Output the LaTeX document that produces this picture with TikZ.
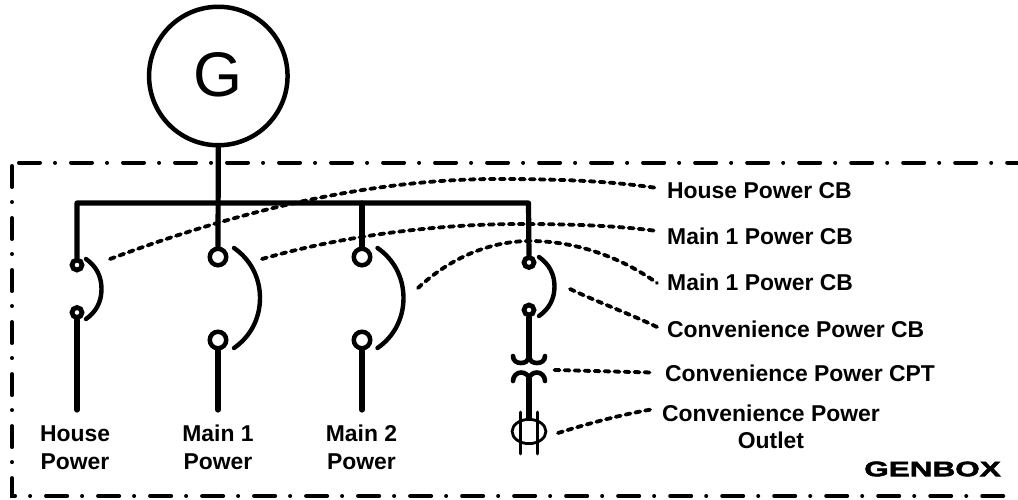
\documentclass[tikz,border=0pt]{standalone}
\usepackage{fontspec}
\usetikzlibrary{shapes.geometric}
\setmainfont{Liberation Sans}
\newfontfamily\wideblack[FakeStretch=1.5,FakeBold=2.5]{Liberation Sans Bold}
\tikzset{
  x=1pt,y=-1pt,
  frameline/.style={line width=4pt,line cap=round,dash pattern=on 21pt off 15pt on 0.01pt off 16pt},
  wire/.style={line width=5.2pt,line cap=round},
  arcline/.style={line width=4.4pt,line cap=round},
  coilline/.style={line width=4.6pt,line cap=round},
  leader/.style={line width=3.8pt,line cap=round,dash pattern=on 5pt off 5pt},
  bigterm/.style={circle,draw,line width=4.5pt,minimum size=16.5pt,inner sep=0pt},
  smallterm/.style={circle,draw,line width=4.8pt,minimum size=10pt,inner sep=0pt},
  lab/.style={font=\bfseries\fontsize{22.9}{27.3}\selectfont,inner sep=0pt,align=center,text height=17pt,text depth=0pt},
  thin sym/.style={line width=2.8pt,line cap=round}
}
\begin{document}
\begin{tikzpicture}
\useasboundingbox (0,0) rectangle (1018,499);
% generator
\node[circle,draw,line width=4.5pt,minimum size=138.5pt,inner sep=0pt,font=\fontsize{63}{63}\selectfont] (gen) at (218.3,76) {\raisebox{3pt}{G}};
% frame
\coordinate (ftl) at (19,162.5);
\coordinate (ftr) at (1018,162.5);
\coordinate (fls) at (12,166);
\coordinate (fbl) at (12,496);
\coordinate (fbr) at (1018,496);
\draw[frameline] (ftl) -- (ftr);
\draw[frameline] (fls) -- (fbl) -- (fbr);
% terminals
\node[smallterm] (h1) at (77,265) {};
\node[smallterm] (h2) at (77,312.5) {};
\node[bigterm] (a1) at (218,257) {};
\node[bigterm] (a2) at (218,340) {};
\node[bigterm] (b1) at (362,257) {};
\node[bigterm] (b2) at (362,340) {};
\node[smallterm] (c1) at (529,262.5) {};
\node[smallterm] (c2) at (529,310) {};
% bus
\coordinate (busl) at (77,203);
\coordinate (busg) at (218,203);
\coordinate (busb) at (362,203);
\coordinate (busr) at (528.5,203);
\draw[wire,line join=round] (h1.north) -- (busl) -- (busr) -- (c1.north);
\draw[wire] (gen.south) -- (a1.north);
\draw[wire] (busb) -- (b1.north);
% outgoing
\coordinate (ho) at (77,410);
\coordinate (ao) at (218,410);
\coordinate (bo) at (362,410);
\draw[wire] (h2.south) -- (ho);
\draw[wire] (a2.south) -- (ao);
\draw[wire] (b2.south) -- (bo);
% breaker arcs
\coordinate (ha) at (86,259);\coordinate (hb) at (86,319);
\draw[arcline] (ha) .. controls (96,266) and (101.5,276) .. (101.5,289) .. controls (101.5,302) and (96,312) .. (hb);
\coordinate (aa) at (234,248);\coordinate (ab) at (234,348);
\draw[arcline] (aa) .. controls (250,259) and (260,277) .. (260,298) .. controls (260,319) and (250,337) .. (ab);
\coordinate (ba) at (377.5,248);\coordinate (bb) at (377.5,348);
\draw[arcline] (ba) .. controls (393.5,259) and (403.5,277) .. (403.5,298) .. controls (403.5,319) and (393.5,337) .. (bb);
\coordinate (ca) at (539,257);\coordinate (cb) at (539,316);
\draw[arcline] (ca) .. controls (549,264) and (554.5,274) .. (554.5,286.5) .. controls (554.5,299) and (549,309) .. (cb);
% transformer
\coordinate (t1) at (529,358);
\coordinate (t2) at (529,378);
\node[ellipse,draw,line width=2.8pt,minimum width=33.8pt,minimum height=24.2pt,inner sep=0pt] (out) at (529,431.5) {};
\draw[wire] (c2.south) -- (t1);
\draw[coilline] (513,356) .. controls (513,361) and (517,363) .. (521,363) .. controls (525,363) and (528,361) .. (t1) .. controls (530,361) and (533,363) .. (537,363) .. controls (541,363) and (545,361) .. (545,356);
\draw[coilline] (513,381) .. controls (513,376) and (517,372.5) .. (521,372.5) .. controls (525,372.5) and (528,375) .. (t2) .. controls (530,375) and (533,372.5) .. (537,372.5) .. controls (541,372.5) and (545,376) .. (545,381);
\draw[wire,line cap=butt] (t2) -- (out.north);
% outlet
\draw[thin sym] (520.7,412) -- (520.7,454);
\draw[thin sym] (537.3,412) -- (537.3,454);
% labels
\node[lab,anchor=west] (l1) at (667,189.5) {House Power CB};
\node[lab,anchor=west] (l2) at (667,236) {Main 1 Power CB};
\node[lab,anchor=west] (l3) at (667,282) {Main 1 Power CB};
\node[lab,anchor=west] (l4) at (667,329) {Convenience Power CB};
\node[lab,anchor=west] (l5) at (665,372.5) {Convenience Power CPT};
\node[lab] (l6) at (771,440.3) {Convenience Power\\Outlet};
\node[lab] (h) at (75,460.5) {House\\Power};
\node[lab] (a) at (218,460.5) {Main 1\\Power};
\node[lab] (b) at (361.5,460.5) {Main 2\\Power};
\node[inner sep=0pt,anchor=east,font=\wideblack\fontsize{21}{21}\selectfont] (gb) at (1001,469) {GENBOX};
% leaders
\draw[leader] (110,259) .. controls (235,212) and (368,179) .. (497,179) .. controls (560,179) and (610,181) .. (657,188);
\draw[leader] (262,259) .. controls (345,235) and (440,224) .. (520,224) .. controls (575,224) and (620,226) .. (657,231);
\draw[leader] (418,288) .. controls (450,258) and (490,241) .. (530,241) .. controls (580,241) and (625,260) .. (657,283);
\draw[leader] (570,289) .. controls (600,303) and (630,314) .. (657,327);
\draw[leader] (554.5,370) -- (652,372.5);
\draw[leader] (558,433) .. controls (590,423) and (620,415) .. (651,409.5);
\end{tikzpicture}
\end{document}
